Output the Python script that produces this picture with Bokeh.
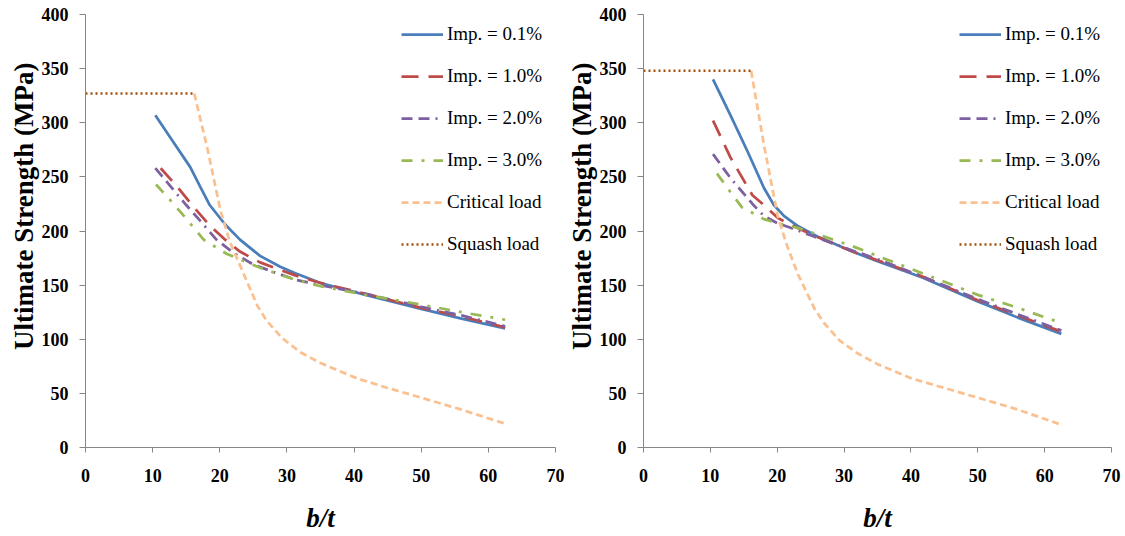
from bokeh.plotting import figure
from bokeh.models import Legend, LegendItem, FixedTicker, Range1d, Title
from bokeh.layouts import row
from bokeh.embed import file_html
from bokeh.resources import INLINE

# ---------------- data ----------------
x_ticks = [0, 10, 20, 30, 40, 50, 60, 70]
y_ticks = [0, 50, 100, 150, 200, 250, 300, 350, 400]
labels = ["Imp. = 0.1%", "Imp. = 1.0%", "Imp. = 2.0%", "Imp. = 3.0%", "Critical load", "Squash load"]

# left panel
L_imp01_x = [10.4, 13, 15.6, 17, 18.5, 20.8, 23, 26, 29, 31.25, 35, 41.7, 50, 56, 62.5]
L_imp01_y = [307, 283, 259, 242, 224, 206, 192, 177, 167, 161, 152, 141, 128, 119, 110]
L_imp10_x = [11.2, 13.5, 16, 18.5, 20.8, 23, 26, 29, 31.25, 35, 41.7, 50, 56, 62.5]
L_imp10_y = [258, 242, 223, 205, 192, 181, 171, 164, 159, 152, 142, 129, 121, 111]
L_imp20_x = [10.4, 12.7, 15, 17, 19.5, 22, 25, 28.5, 31.25, 35, 41.7, 50, 56, 62.5]
L_imp20_y = [258, 241, 224, 210, 192, 180, 169, 161, 155, 150, 142, 130, 122, 112]
L_imp30_x = [10.5, 12.7, 15.2, 17.6, 21, 26, 31.25, 35, 41.7, 50, 56, 62.5]
L_imp30_y = [243, 228, 210, 192, 179, 166, 155, 149, 141, 132, 125, 118]
L_crit_x = [16.2, 18.2, 20.1, 21.5, 23.1, 25.6, 27, 29.3, 32, 35, 40.4, 45, 50, 56, 62.5]
L_crit_y = [327, 275, 219, 190, 167, 131, 117, 101, 88, 78, 64, 55, 46, 35, 22]
L_squash_x = [0, 16.2]
L_squash_y = [327, 327]

# right panel
R_imp01_x = [10.4, 13, 15.6, 18, 19.5, 21, 23, 26, 31.25, 35, 41.7, 50, 56, 62.5]
R_imp01_y = [340, 307, 273, 240, 224, 214, 205, 195, 181, 172, 157, 135, 120, 105]
R_imp10_x = [10.4, 13, 16.3, 18, 20.1, 22, 25, 31.25, 35, 41.7, 50, 56, 62.5]
R_imp10_y = [302, 268, 233, 224, 212, 206, 197, 181, 173, 158, 136, 122, 107]
R_imp20_x = [10.4, 13, 16.3, 18, 20.1, 22, 25, 31.25, 35, 41.7, 50, 56, 62.5]
R_imp20_y = [271, 249, 225, 214, 207, 203, 196, 182, 174, 158, 137, 123, 108]
R_imp30_x = [11, 13, 14.7, 18, 20.1, 23, 26, 31.25, 35, 41.7, 50, 56, 62.5]
R_imp30_y = [253, 236, 222, 211, 207, 203, 197, 186, 177, 161, 141, 129, 115]
R_crit_x = [16.1, 18, 20.1, 21.5, 23.1, 25.6, 27, 29.3, 32, 35, 40, 45, 50, 56, 62.5]
R_crit_y = [348, 280, 213, 186, 160, 128, 115, 99, 87, 77, 64, 55, 46, 35, 21]
R_squash_x = [0, 16.2]
R_squash_y = [348, 348]

# ---------------- styles ----------------
SERIF = "Liberation Serif"
AXIS_COL = "#868686"
styles = [
    dict(line_color="#4A7EBB", line_width=2.75, line_dash="solid"),
    dict(line_color="#BE4B48", line_width=2.75, line_dash="17 10"),
    dict(line_color="#7D60A0", line_width=2.75, line_dash="11 6 11 6 2 6"),
    dict(line_color="#98B954", line_width=2.75, line_dash="11 9 3 9"),
    dict(line_color="#FAC090", line_width=2.75, line_dash="7 4"),
    dict(line_color="#A0500A", line_width=2.5, line_dash="2 3"),
]


def make_panel(series, width, border_left, border_right):
    p = figure(width=width, height=536, output_backend="svg", toolbar_location=None,
               x_range=Range1d(0, 70), y_range=Range1d(0, 400),
               min_border_left=border_left, min_border_right=border_right,
               min_border_top=14, min_border_bottom=89)
    p.outline_line_color = None
    p.grid.visible = False
    p.background_fill_color = "white"
    p.border_fill_color = "white"

    for ax in (p.xaxis[0], p.yaxis[0]):
        ax.axis_line_color = AXIS_COL
        ax.major_tick_line_color = AXIS_COL
        ax.minor_tick_line_color = None
        ax.major_tick_in = 0
        ax.major_label_text_font = SERIF
        ax.major_label_text_font_style = "bold"
        ax.major_label_text_font_size = "18px"
        ax.major_label_text_color = "black"
    p.xaxis.major_tick_out = 5
    p.yaxis.major_tick_out = 6
    p.xaxis.ticker = FixedTicker(ticks=x_ticks)
    p.yaxis.ticker = FixedTicker(ticks=y_ticks)
    p.xaxis.major_label_standoff = 16
    p.yaxis.major_label_standoff = 11
    p.xaxis.axis_label = "b/t"
    p.xaxis.axis_label_text_font = SERIF
    p.xaxis.axis_label_text_font_style = "bold italic"
    p.xaxis.axis_label_text_font_size = "27px"
    p.xaxis.axis_label_text_color = "black"
    p.xaxis.axis_label_standoff = 18

    ytitle = Title(text="Ultimate Strength (MPa)", align="right", offset=48,
                   standoff=0, text_font=SERIF, text_font_style="bold",
                   text_font_size="27px", text_color="black")
    p.add_layout(ytitle, "left")

    items = []
    for (xs, ys), lab, st in zip(series, labels, styles):
        r = p.line(xs, ys, **st)
        items.append(LegendItem(label=lab, renderers=[r]))

    leg = Legend(items=items, location=(316, 192), orientation="vertical",
                 glyph_width=42, glyph_height=22, label_height=22, spacing=20,
                 label_standoff=4, padding=0, margin=0,
                 label_text_font=SERIF, label_text_font_size="19px",
                 label_text_color="black",
                 border_line_color=None, background_fill_alpha=0)
    p.add_layout(leg)
    return p


left = make_panel([(L_imp01_x, L_imp01_y), (L_imp10_x, L_imp10_y), (L_imp20_x, L_imp20_y),
                   (L_imp30_x, L_imp30_y), (L_crit_x, L_crit_y), (L_squash_x, L_squash_y)],
                  width=564, border_left=85, border_right=9)
right = make_panel([(R_imp01_x, R_imp01_y), (R_imp10_x, R_imp10_y), (R_imp20_x, R_imp20_y),
                    (R_imp30_x, R_imp30_y), (R_crit_x, R_crit_y), (R_squash_x, R_squash_y)],
                   width=561, border_left=77, border_right=14)

layout = row(left, right)
open("out.html", "w").write(file_html(layout, INLINE))
